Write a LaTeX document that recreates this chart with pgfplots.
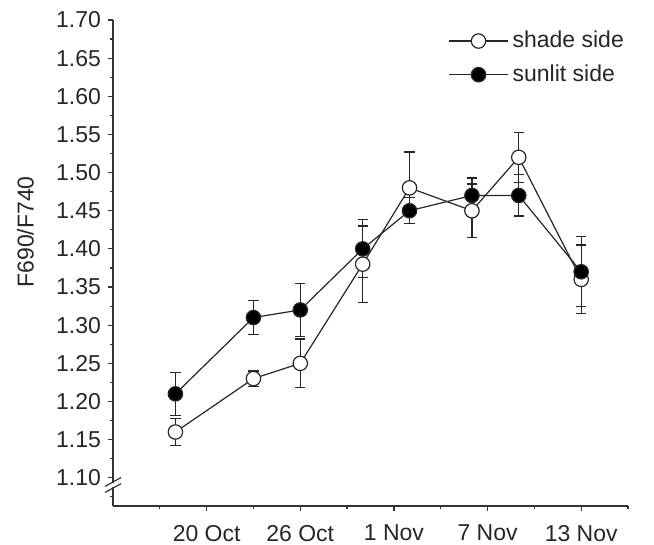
\documentclass[border=0pt]{standalone}
\usepackage{fontspec}
\setmainfont{Liberation Sans}
\usepackage{pgfplots}
\usepackage{pgfplotstable}
\pgfplotsset{compat=1.18}
\pgfplotstableread{
x y e
18 1.16 0.018
23 1.23 0.010
26 1.25 0.032
30 1.38 0.050
33 1.48 0.047
37 1.45 0.035
40 1.52 0.033
44 1.36 0.045
}\shade
\pgfplotstableread{
x y e
18 1.21 0.028
23 1.31 0.022
26 1.32 0.035
30 1.40 0.038
33 1.45 0.017
37 1.47 0.023
40 1.47 0.027
44 1.37 0.046
}\sunlit
\begin{document}
\begin{tikzpicture}
\begin{axis}[
  scale only axis, width=257.5pt, height=243pt,
  xmin=14, xmax=47, ymin=1.063, ymax=1.70,
  axis lines=left, axis line style={-, line width=0.75pt, black!80},
  tick align=outside, major tick length=2.5pt, minor tick length=1.5pt,
  every tick/.style={black!80, line width=0.6pt},
  xtick={20,26,32,38,44}, xticklabels={20 Oct,26 Oct,1 Nov,7 Nov,13 Nov},
  minor xtick={17,23,29,35,41,47},
  ytick={1.10,1.15,1.20,1.25,1.30,1.35,1.40,1.45,1.50,1.55,1.60,1.65,1.70},
  minor ytick={1.075,1.125,1.175,1.225,1.275,1.325,1.375,1.425,1.475,1.525,1.575,1.625,1.675},
  yticklabel style={/pgf/number format/.cd, fixed, fixed zerofill, precision=2},
  xticklabel style={yshift=-3.5pt},
  /pgf/number format/assume math mode=true,
  font=\fontsize{11.5}{13.5}\selectfont,
  ticklabel style={black!85},
  ylabel={F690/F740},
  ylabel style={at={(axis description cs:-0.17,0.564)}, anchor=center, black!85},
  legend style={at={(axis description cs:0.6505,0.986)}, anchor=north west, draw=none, fill=none, row sep=3pt, inner sep=0pt, font=\fontsize{11.5}{13.5}\selectfont, text=black!85},
  legend cell align=left,
  legend image code/.code={\draw[#1,mark repeat=2,mark phase=2] plot coordinates {(0pt,0pt) (14.75pt,0pt) (29.5pt,0pt)};},
  clip=false,
]
\addplot[black!85, line width=0.6pt, mark=*, mark size=3.6pt, mark options={fill=white, solid},
  error bars/.cd, y dir=both, y explicit,
  error bar style={line width=0.6pt, black!85},
  error mark options={rotate=90, mark size=2.6pt, line width=0.6pt, black!85}]
  table[x=x, y=y, y error=e] {\shade};
\addlegendentry{shade side}
\addplot[black!85, line width=0.6pt, mark=*, mark size=3.6pt, mark options={fill=black, solid},
  error bars/.cd, y dir=both, y explicit,
  error bar style={line width=0.6pt, black!85},
  error mark options={rotate=90, mark size=2.6pt, line width=0.6pt, black!85}]
  table[x=x, y=y, y error=e] {\sunlit};
\addlegendentry{sunlit side}
\draw[white, line width=4pt] (axis cs:14,1.0875) -- (axis cs:14,1.0935);
\draw[black!80, line width=0.6pt] ([xshift=-4pt,yshift=-2.2pt]axis cs:14,1.0945) -- ([xshift=4pt,yshift=2.2pt]axis cs:14,1.0945);
\draw[black!80, line width=0.6pt] ([xshift=-4pt,yshift=-2.2pt]axis cs:14,1.0865) -- ([xshift=4pt,yshift=2.2pt]axis cs:14,1.0865);
\end{axis}
\pgfresetboundingbox
\path ([xshift=-56.5pt,yshift=-19pt]current axis.south west) rectangle ([xshift=13pt,yshift=10pt]current axis.north east);
\end{tikzpicture}
\end{document}
